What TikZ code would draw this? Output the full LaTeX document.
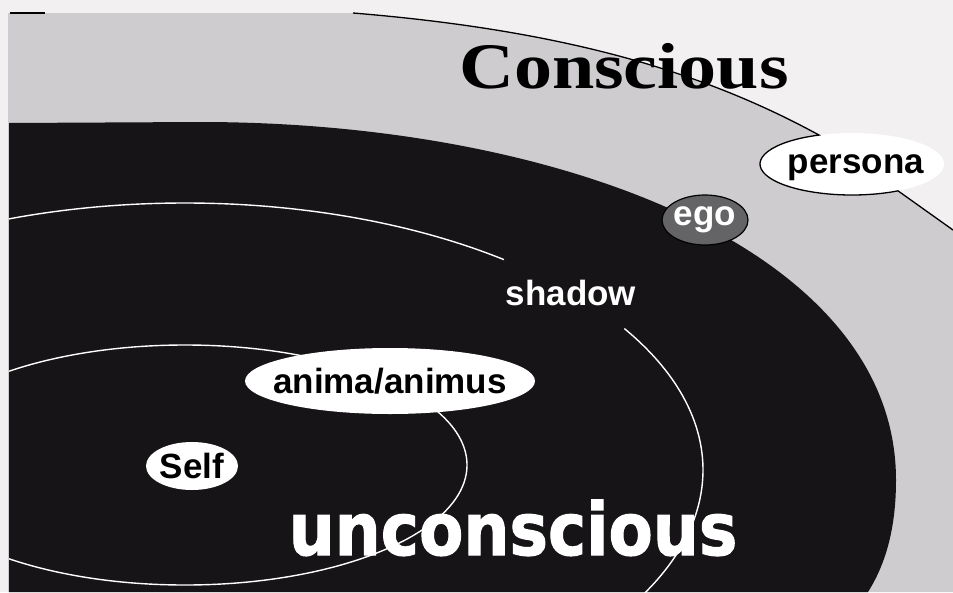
\documentclass[tikz,border=0pt]{standalone}
\usepackage{fontspec}
\usepackage{graphicx}
\setmainfont{Liberation Serif}
\setsansfont{Liberation Sans}
\newfontfamily\heavyfont{DejaVu Sans}[BoldFeatures={FakeBold=1.5}]
\usetikzlibrary{shapes.geometric}
\definecolor{mypaper}{RGB}{243,240,241}
\definecolor{mygray}{RGB}{207,204,208}
\definecolor{myblack}{RGB}{22,20,22}
\definecolor{myego}{RGB}{100,100,102}

\begin{document}
\begin{tikzpicture}[x=1pt,y=1pt,
    tagtext/.style={font=\sffamily\bfseries\fontsize{35}{40}\selectfont,inner sep=0pt,text=black},
    ring/.style={white,line width=1.4pt},
    rim/.style={black,line width=1.3pt}]
  \useasboundingbox (0,0) rectangle (953,-592);
  \fill[mypaper] (0,0) rectangle (953,-592);

  % conscious band
  \coordinate (topA) at (353,-13);
  \coordinate (pc) at (852,-164);
  \path (pc) ++(111:92pt and 31pt) coordinate (pin);
  \fill[mygray] (8,-13) -- (topA) .. controls (560,-30) and (700,-70) .. (pin)
    arc[start angle=111,end angle=300,x radius=92pt,y radius=31pt]
    -- (953,-230) -- (953,-592) -- (8,-592) -- cycle;

  % unconscious
  \fill[myblack] (9,-123) -- (200,-122) .. controls (560,-122) and (896,-250) .. (896,-480)
    .. controls (896,-530) and (885,-565) .. (868,-592) -- (9,-592) -- cycle;

  \fill[white] (pc) ellipse[x radius=92pt,y radius=31pt]
    node[tagtext,xshift=4pt,yshift=-4pt] (persona) {persona};
  \draw[rim] (10,-13) -- (45,-13);
  \draw[rim] (topA) .. controls (560,-30) and (700,-70) .. (pin)
    arc[start angle=111,end angle=300,x radius=92pt,y radius=31pt] -- (953,-230);

  \begin{scope}
    \clip (9,-100) rectangle (953,-592);
    \draw[ring] (185,-470) ++(115:518pt and 267pt)
      arc[start angle=115,end angle=52,x radius=518pt,y radius=267pt];
    \draw[ring] (185,-470) ++(32:518pt and 267pt)
      arc[start angle=32,end angle=-40,x radius=518pt,y radius=267pt];
    \draw[ring] (185,-465) ellipse[x radius=282pt,y radius=120pt];
  \end{scope}

  \filldraw[fill=myego,draw=black,line width=1.2pt] (705,-220)
    ellipse[x radius=43pt,y radius=25pt] node[tagtext,text=white] (ego) {ego};
  \node[tagtext,text=white] (shadow) at (571,-293) {shadow};
  \fill[white] (390,-381) ellipse[x radius=145pt,y radius=33pt]
    node[tagtext] (anima) {anima/animus};
  \fill[white] (192,-466) ellipse[x radius=46pt,y radius=24pt]
    node[tagtext] (self) {Self};

  \node[anchor=base,inner sep=0pt,font=\bfseries\fontsize{65}{70}\selectfont]
    (conscious) at (624,-88) {\scalebox{1.17}[1]{Conscious}};
  \node[anchor=base,inner sep=0pt,text=white,font=\heavyfont\bfseries\fontsize{64}{70}\selectfont]
    (unconscious) at (513,-555) {\scalebox{1.01}[1.14]{unconscious}};
\end{tikzpicture}
\end{document}
